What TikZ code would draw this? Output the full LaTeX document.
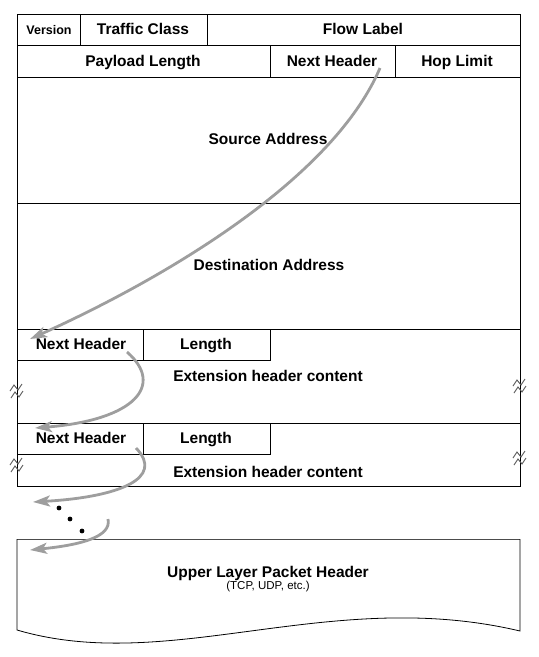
\documentclass[tikz,border=0pt]{standalone}
\usepackage{fontspec}
\setmainfont{Liberation Sans}
\usetikzlibrary{arrows.meta}

\tikzset{
  fld/.style={font=\bfseries\fontsize{15.5}{18}\selectfont, anchor=base, inner sep=0pt},
  nextarrow/.style={draw=black!38, line width=2.8pt, -{Stealth[length=17pt,width=11pt,inset=4pt]}},
  brkmark/.pic={
    \draw[black!65, line width=0.9pt] (-7,2) -- (-3,-4) -- (1,1) -- (5,-5);
    \draw[black!65, line width=0.9pt] (-6,9) -- (-2,3) -- (2,8) -- (6,2);
  }
}

\begin{document}
\begin{tikzpicture}[x=1pt,y=-1pt, line width=0.8pt]
\useasboundingbox (0,0) rectangle (539,657);

% IPv6 fixed header
\draw (17,14) rectangle (520,486);
\draw (17,45) -- (520,45);
\draw (17,77) -- (520,77);
\draw (80,14) -- (80,45);
\draw (207,14) -- (207,45);
\draw (270,45) -- (270,77);
\draw (395,45) -- (395,77);
\draw (17,203) -- (520,203);
\draw (17,329) -- (520,329);

% extension headers
\draw (17,360) -- (270,360) -- (270,329);
\draw (143,329) -- (143,360);
\draw (17,423) -- (520,423);
\draw (17,454) -- (270,454) -- (270,423);
\draw (143,423) -- (143,454);

% upper layer header
\draw[black!70] (17,539) -- (520,539);
\draw (17,539) -- (17,630) .. controls (170,675) and (330,586) .. (520,631) -- (520,539);

\node[fld, font=\bfseries\fontsize{12.5}{15}\selectfont] (ver) at (49,34) {Version};
\node[fld] (tc) at (143,34) {Traffic Class};
\node[fld] (fl) at (363,34) {Flow Label};
\node[fld] (pl) at (143,66) {Payload Length};
\node[fld] (nh) at (332,66) {Next Header};
\node[fld] (hl) at (457,66) {Hop Limit};
\node[fld] (src) at (268,144) {Source Address};
\node[fld] (dst) at (269,270) {Destination Address};
\node[fld] (nha) at (81,349) {Next Header};
\node[fld] (lena) at (206,349) {Length};
\node[fld] (exta) at (268,381) {Extension header content};
\node[fld] (nhb) at (81,443) {Next Header};
\node[fld] (lenb) at (206,443) {Length};
\node[fld] (extb) at (268,477) {Extension header content};
\node[fld] (ulp) at (268,577) {Upper Layer Packet Header};
\node[fld, font=\fontsize{11.5}{14}\selectfont] (ulpsub) at (268,589) {(TCP, UDP, etc.)};

% breaks
\pic at (17,389) {brkmark};
\pic at (17,463) {brkmark};
\pic at (520,384) {brkmark};
\pic at (520,456) {brkmark};

% next header chain
\coordinate (s0) at (380,68);
\coordinate (e0) at (30,339);
\coordinate (s1) at (127,352);
\coordinate (e1) at (35,428);
\coordinate (s2) at (136,448);
\coordinate (e2) at (33,502);
\coordinate (s3) at (108,519);
\coordinate (e3) at (30,550);
\draw[nextarrow] (s0) .. controls (330,185) and (150,285) .. (e0);
\draw[nextarrow] (s1) .. controls (165,385) and (135,420) .. (e1);
\draw[nextarrow] (s2) .. controls (165,478) and (120,497) .. (e2);
\draw[nextarrow] (s3) .. controls (112,537) and (80,545) .. (e3);

\fill (59,508) circle (2.4);
\fill (70,519) circle (2.4);
\fill (82,531) circle (2.4);
\end{tikzpicture}
\end{document}
